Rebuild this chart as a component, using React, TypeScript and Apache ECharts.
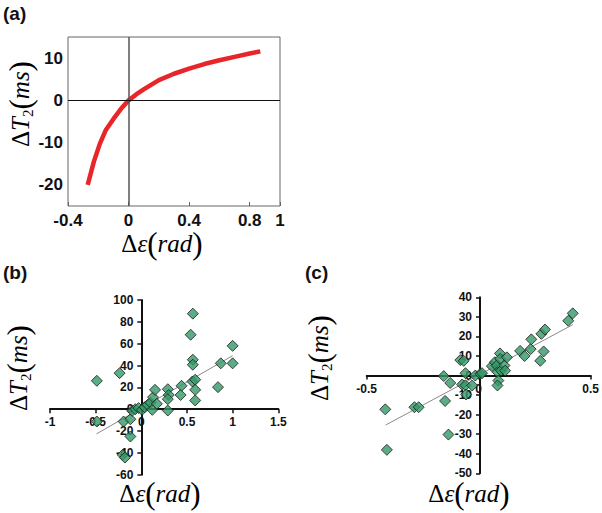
import React, { useEffect, useRef } from "react";
import * as echarts from "echarts";

// Panel (a): model curve
const curveX = [-0.27, -0.23, -0.19, -0.15, -0.1, -0.05, 0, 0.05, 0.1, 0.2, 0.3, 0.4, 0.5, 0.6, 0.7, 0.8, 0.87];
const curveY = [-20, -14.6, -10.3, -7.0, -4.4, -2.0, 0, 1.4, 2.6, 4.8, 6.3, 7.5, 8.6, 9.5, 10.3, 11.1, 11.6];

// Panel (b): measured points
const bX = [-0.487, -0.487, -0.238, -0.194, -0.12, -0.12, -0.204, -0.18, -0.1, -0.066, -0.03, 0.007, 0.037, 0.07, 0.1, 0.12, 0.128, 0.15, 0.17, 0.29, 0.29, 0.3, 0.29, 0.44, 0.43, 0.56, 0.59, 0.59, 0.59, 0.84, 0.87, 1.0, 0.564, 0.54, 0.564, 0.564, 1.0];
const bY = [26, -11.3, 33, -11.3, -9.2, -25, -41.8, -44.3, -1.5, 0, 1, -0.6, 1.8, 4, 6, -0.6, 11, 17.7, 4.9, -1.2, 18.3, 13, 9.2, 21.4, 13, 25.4, 27, 17.7, 8, 20.2, 42, 42, 87.5, 68.2, 45.3, 40.7, 58];
const bTrendX = [-0.49, 1.0];
const bTrendY = [-22.6, 49];

// Panel (c): measured points
const cX = [-0.417, -0.41, -0.287, -0.268, -0.156, -0.15, -0.135, -0.127, -0.082, -0.067, -0.059, -0.074, -0.059, -0.056, -0.029, -0.015, 0.007, 0.015, 0.059, 0.072, 0.08, 0.095, 0.096, 0.085, 0.088, 0.084, 0.1, 0.115, 0.118, 0.126, 0.185, 0.205, 0.232, 0.235, 0.275, 0.28, 0.296, 0.29, 0.4, 0.42];
const cY = [-17.3, -38, -16.2, -16.2, -0.3, -13, -30.2, -3.8, 7.9, 7.5, 1.2, -4.6, -5, -9.7, -5.1, 0, 0.85, 1.2, 4.8, 6.8, 5.1, 11.3, 8.5, 1.7, -2.6, -5.1, 2.5, 5.1, 2.5, 9.3, 12.6, 10, 13.5, 18.5, 7.5, 21.3, 23.5, 12.3, 28, 31.8];
const cTrendX = [-0.415, 0.42];
const cTrendY = [-25.3, 26];

// Axis limits
const aXLim = [-0.4, 1];
const aYLim = [-25, 15];
const bXLim = [-1, 1.5];
const bYLim = [-60, 100];
const cXLim = [-0.5, 0.5];
const cYLim = [-50, 40];

const zip = (xs: number[], ys: number[]) => xs.map((x, i) => [x, ys[i]]);

const serifRich = {
  d: { fontFamily: "Liberation Serif", fontSize: 25, lineHeight: 30, color: "#111" },
  i: { fontFamily: "Liberation Serif", fontStyle: "italic", fontSize: 25, lineHeight: 30, color: "#111" },
  s: { fontFamily: "Liberation Serif", fontSize: 15, lineHeight: 15, verticalAlign: "bottom", color: "#111" },
  p: { fontFamily: "Liberation Serif", fontSize: 31, lineHeight: 30, color: "#111" },
};

const yTitle = "{d|Δ}{i|T}{s|2}{p|(}{i|ms}{p|)}";
const xTitle = "{d|Δ}{i|ε}{p|(}{i|rad}{p|)}";

function titleText(x: number, y: number, text: string, rotate: boolean) {
  return {
    type: "text",
    x,
    y,
    rotation: rotate ? Math.PI / 2 : 0,
    style: { text, rich: serifRich, align: "center", verticalAlign: "middle" },
  };
}

function panelLabel(x: number, y: number, text: string) {
  return {
    type: "text",
    x,
    y,
    style: { text, font: "bold 19px 'Liberation Sans', Arial, sans-serif", fill: "#111" },
  };
}

// offset that places an axis where the other axis equals zero
const zeroOffset = (lim: number[], size: number) => -((0 - lim[0]) / (lim[1] - lim[0])) * size;

const gridB = { left: 50, top: 300, width: 228.3, height: 174.7 };
const gridC = { left: 366.7, top: 297.3, width: 226.6, height: 176 };

export default function App() {
  const ref = useRef<HTMLDivElement>(null);

  useEffect(() => {
    if (!ref.current) return;
    const chart = echarts.init(ref.current, null, { renderer: "svg" });

    const smallLabel = {
      fontFamily: "'Liberation Sans', Arial, sans-serif",
      fontWeight: "bold" as const,
      fontSize: 12,
      color: "#111",
    };
    const bigLabel = {
      fontFamily: "'Liberation Sans', Arial, sans-serif",
      fontWeight: "bold" as const,
      fontSize: 17,
      color: "#111",
    };
    const scatterStyle = { color: "#339966", borderColor: "#1b1b1b", borderWidth: 1 };
    const crossLine = { show: true, onZero: false, lineStyle: { color: "#111", width: 2 } };
    const crossTick = { show: true, length: 4, lineStyle: { color: "#111", width: 1.5 } };

    chart.setOption({
      animation: false,
      backgroundColor: "#fff",
      grid: [
        { left: 68, top: 37, width: 212, height: 169, show: true, borderColor: "#666", borderWidth: 1, backgroundColor: "transparent" },
        gridB,
        gridC,
      ],
      xAxis: [
        {
          type: "value", gridIndex: 0, min: aXLim[0], max: aXLim[1], interval: 0.4,
          axisLine: { show: false, onZero: false },
          axisTick: { show: true, inside: true, length: 4, lineStyle: { color: "#666" } },
          splitLine: { show: false },
          axisLabel: { ...bigLabel, margin: 6 },
        },
        {
          type: "value", gridIndex: 1, min: bXLim[0], max: bXLim[1], interval: 0.5,
          position: "bottom", offset: zeroOffset(bYLim, gridB.height),
          axisLine: crossLine, axisTick: crossTick, splitLine: { show: false },
          axisLabel: { ...smallLabel, margin: 7 },
        },
        {
          type: "value", gridIndex: 2, min: cXLim[0], max: cXLim[1], interval: 0.5,
          position: "bottom", offset: zeroOffset(cYLim, gridC.height),
          axisLine: crossLine, axisTick: crossTick, splitLine: { show: false },
          axisLabel: { ...smallLabel, margin: 7 },
        },
      ],
      yAxis: [
        {
          type: "value", gridIndex: 0, min: aYLim[0], max: aYLim[1], interval: 5,
          axisLine: { show: false, onZero: false },
          axisTick: { show: false },
          splitLine: { show: false },
          axisLabel: {
            ...bigLabel, margin: 5,
            formatter: (v: number) => (Math.round(v) % 10 === 0 ? String(Math.round(v)) : ""),
          },
        },
        {
          type: "value", gridIndex: 1, min: bYLim[0], max: bYLim[1], interval: 20,
          position: "left", offset: zeroOffset(bXLim, gridB.width),
          axisLine: crossLine, axisTick: crossTick, splitLine: { show: false },
          axisLabel: { ...smallLabel, margin: 8 },
        },
        {
          type: "value", gridIndex: 2, min: cYLim[0], max: cYLim[1], interval: 10,
          position: "left", offset: zeroOffset(cXLim, gridC.width),
          axisLine: crossLine, axisTick: crossTick, splitLine: { show: false },
          axisLabel: { ...smallLabel, margin: 8 },
        },
      ],
      series: [
        {
          type: "line", xAxisIndex: 0, yAxisIndex: 0,
          data: zip(curveX, curveY),
          showSymbol: false, smooth: false,
          lineStyle: { color: "#e8262a", width: 4.5 },
          z: 3,
          markLine: {
            silent: true, symbol: "none", label: { show: false },
            data: [
              { xAxis: 0, lineStyle: { color: "#555", width: 1.5, type: "solid" } },
              { yAxis: 0, lineStyle: { color: "#111", width: 1, type: "solid" } },
            ],
          },
        },
        {
          type: "line", xAxisIndex: 1, yAxisIndex: 1,
          data: zip(bTrendX, bTrendY), showSymbol: false,
          lineStyle: { color: "#8a8a8a", width: 1 }, z: 1,
        },
        {
          type: "scatter", xAxisIndex: 1, yAxisIndex: 1,
          data: zip(bX, bY), symbol: "diamond", symbolSize: [11, 11],
          itemStyle: scatterStyle, z: 3,
        },
        {
          type: "line", xAxisIndex: 2, yAxisIndex: 2,
          data: zip(cTrendX, cTrendY), showSymbol: false,
          lineStyle: { color: "#8a8a8a", width: 1 }, z: 1,
        },
        {
          type: "scatter", xAxisIndex: 2, yAxisIndex: 2,
          data: zip(cX, cY), symbol: "diamond", symbolSize: [11, 11],
          itemStyle: scatterStyle, z: 3,
        },
      ],
      graphic: [
        panelLabel(3, 4, "(a)"),
        panelLabel(3, 263, "(b)"),
        panelLabel(305, 263, "(c)"),
        titleText(20, 104, yTitle, true),
        titleText(162, 243, xTitle, false),
        titleText(18, 368, yTitle, true),
        titleText(160, 493, xTitle, false),
        titleText(319, 358, yTitle, true),
        titleText(469, 493, xTitle, false),
      ],
    });

    return () => chart.dispose();
  }, []);

  return (
    <div
      ref={ref}
      style={{ position: "absolute", left: 0, top: 0, width: 602, height: 513, background: "#fff" }}
    />
  );
}
